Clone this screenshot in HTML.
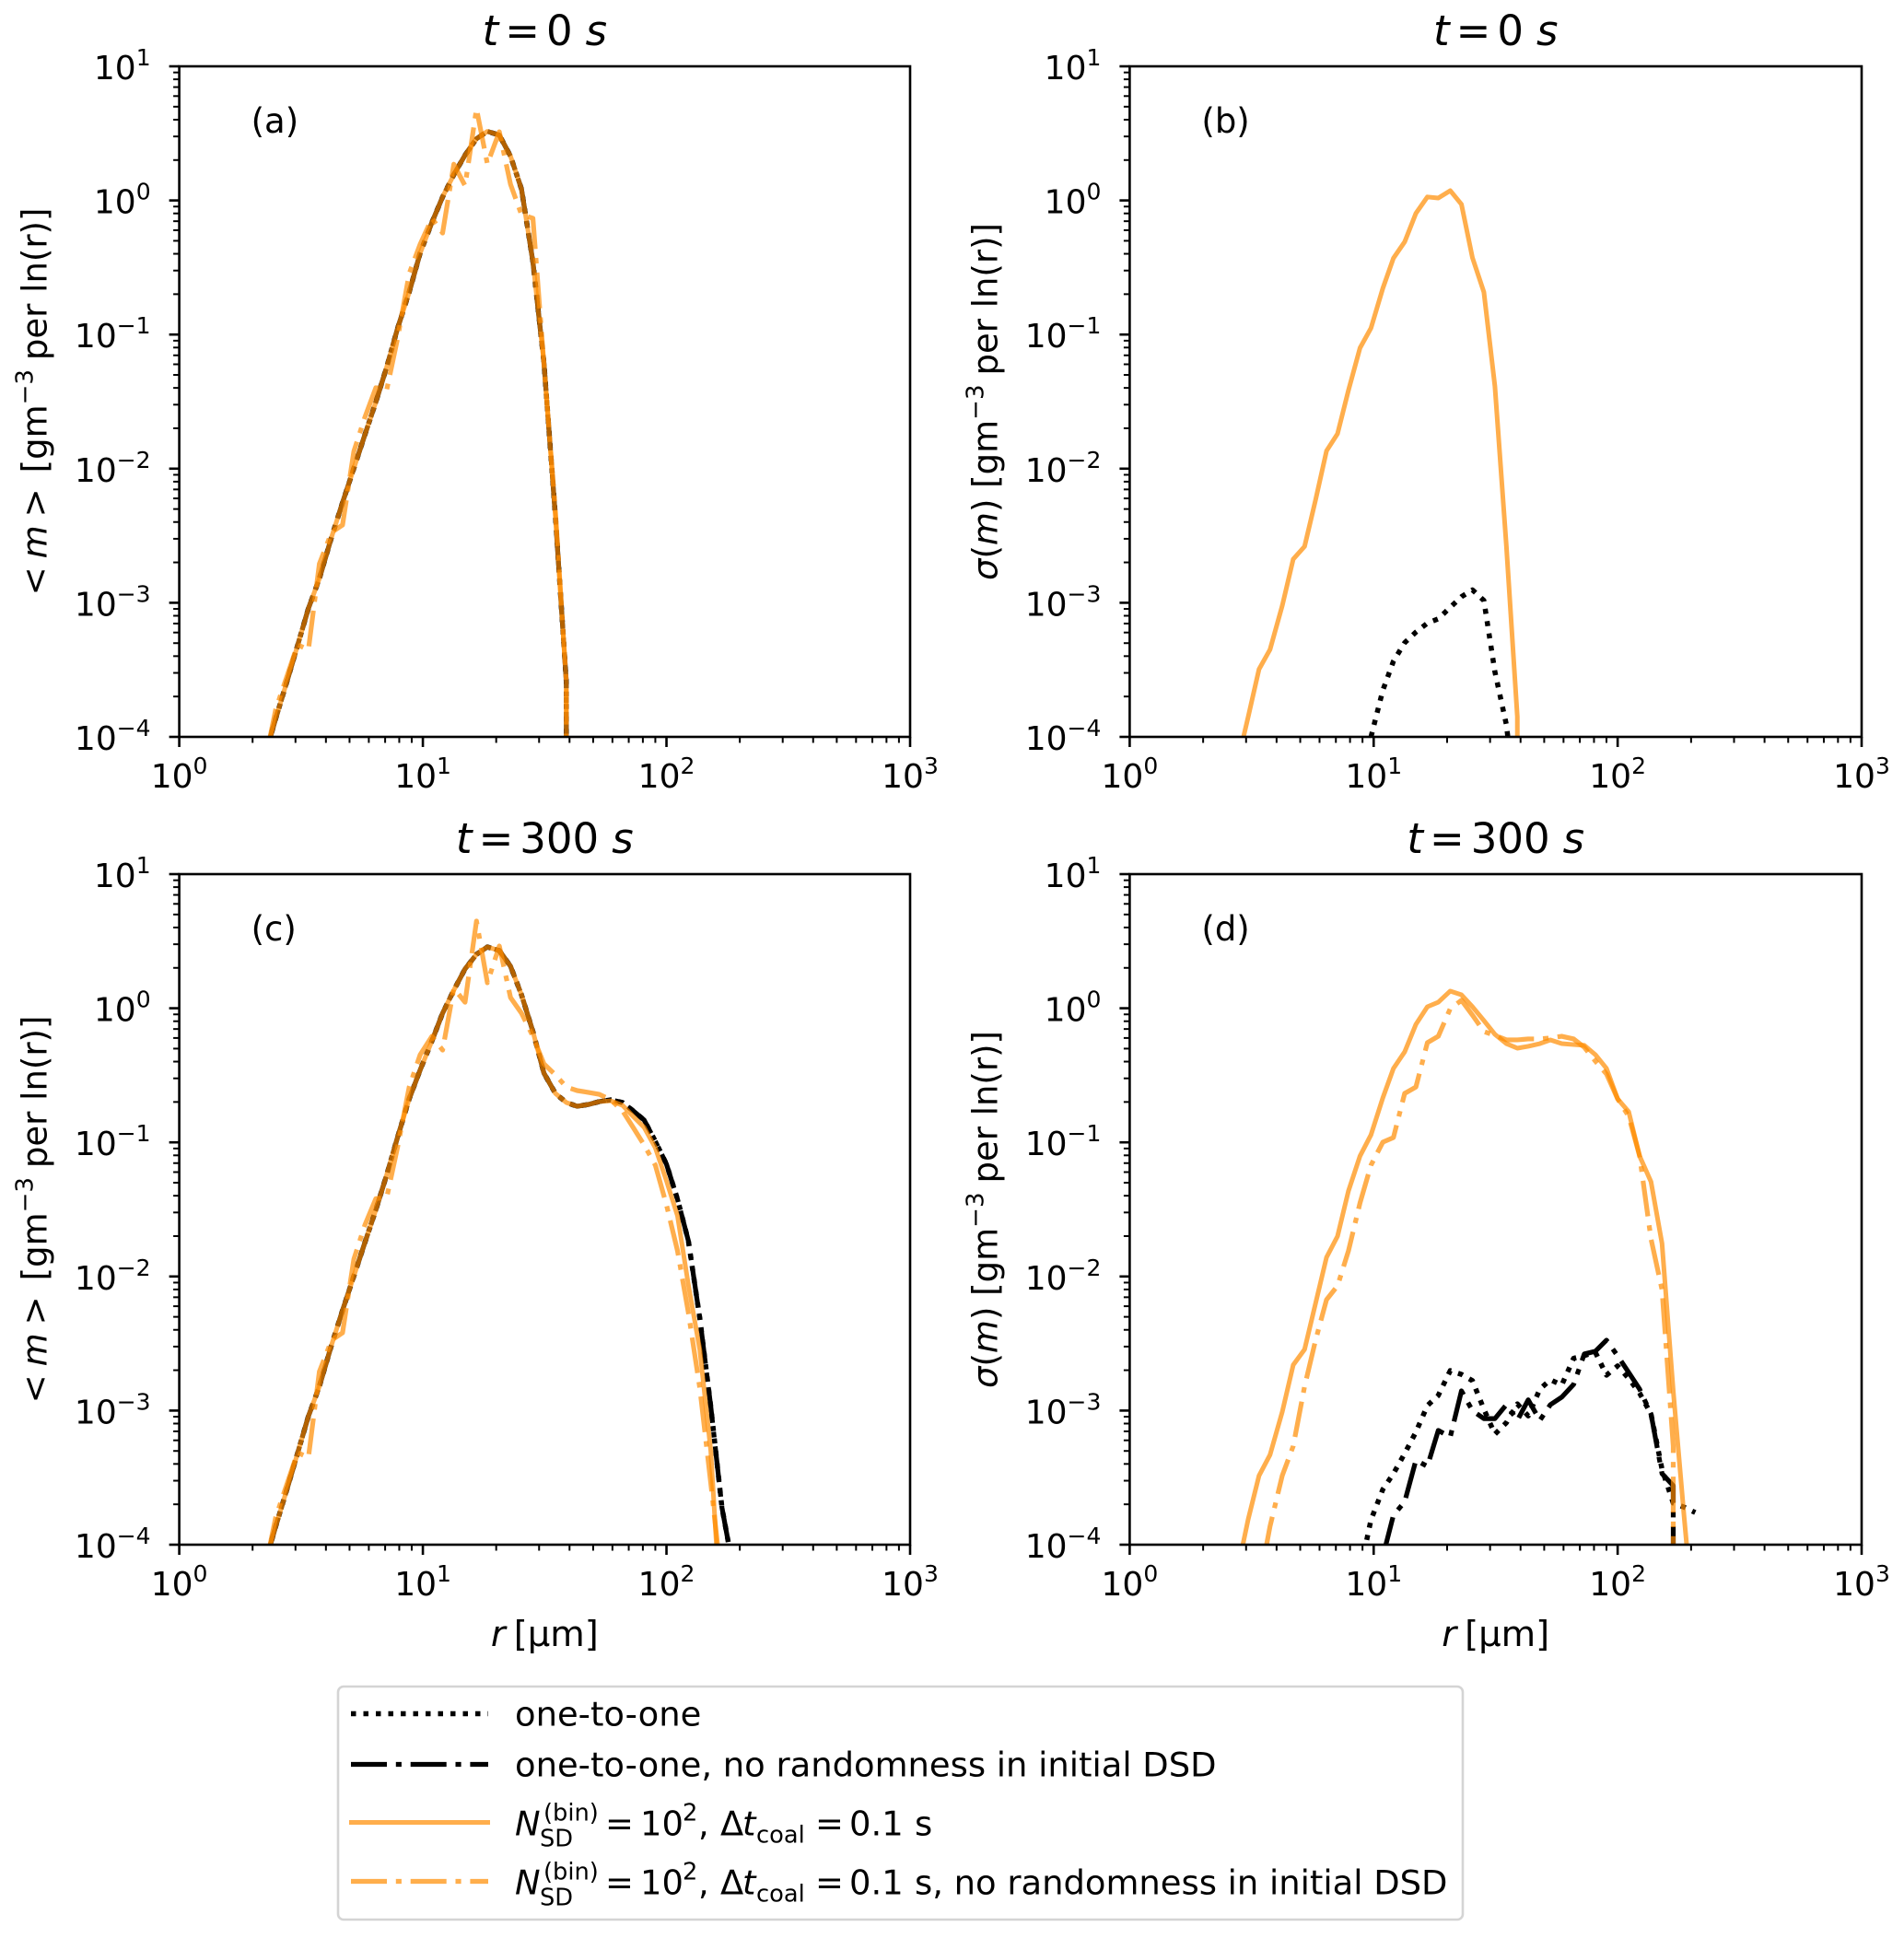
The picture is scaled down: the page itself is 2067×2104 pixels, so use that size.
<!DOCTYPE html>
<html lang="en">
<head>
<meta charset="utf-8">
<title>Droplet size distribution panels</title>
<style>
html,body{margin:0;padding:0;background:#fff;width:2067px;height:2104px;overflow:hidden;}
svg{display:block;overflow:hidden;}
text{font-family:"DejaVu Sans","Liberation Sans",sans-serif;fill:#000;}
.i{font-style:italic;}
</style>
</head>
<body>
<svg id="fig" xmlns="http://www.w3.org/2000/svg" width="2067" height="2104" viewBox="0 0 2067 2104">
  <rect x="0" y="0" width="2067" height="2104" fill="#fff"/>
  <g id="plots"></g>

  <g>
    <rect x="367" y="1831" width="1221" height="253" rx="6" ry="6" fill="#fff" stroke="#d4d4d4" stroke-width="2.6"/>
    <g>
      <line x1="381" x2="530" y1="1860.5" y2="1860.5" stroke="#000" stroke-width="5.5" stroke-dasharray="5.5 8"/>
      <text x="559" y="1873.5" font-size="36.9">one-to-one</text>
    </g>
    <g>
      <line x1="381" x2="530" y1="1915.5" y2="1915.5" stroke="#000" stroke-width="5.2" stroke-dasharray="39 9.8 6.1 9.8"/>
      <text x="559" y="1928.5" font-size="36.9">one-to-one, no randomness in initial DSD</text>
    </g>
    <g>
      <line x1="379" x2="532" y1="1978.5" y2="1978.5" stroke="#ff8c00" stroke-opacity="0.7" stroke-width="5"/>
      <text font-size="36.9">
        <tspan class="i" x="559" y="1992.5">N</tspan><tspan x="590" y="1976.5" font-size="25.7">(bin)</tspan><tspan x="586" y="2004.5" font-size="25.7">SD</tspan><tspan x="657" y="1992.5">=</tspan><tspan x="695" y="1992.5">10</tspan><tspan x="741" y="1976.5" font-size="25.7">2</tspan><tspan x="758" y="1992.5">,</tspan><tspan x="782" y="1992.5">Δ</tspan><tspan class="i" x="806" y="1992.5">t</tspan><tspan x="821" y="2000.5" font-size="25.7">coal</tspan><tspan x="885" y="1992.5">=</tspan><tspan x="922" y="1992.5">0.1</tspan><tspan x="993" y="1992.5">s</tspan>
      </text>
    </g>
    <g>
      <line x1="381" x2="530" y1="2042.5" y2="2042.5" stroke="#ff8c00" stroke-opacity="0.7" stroke-width="5.2" stroke-dasharray="39 9.8 6.1 9.8"/>
      <text font-size="36.9">
        <tspan class="i" x="559" y="2056.5">N</tspan><tspan x="590" y="2040.5" font-size="25.7">(bin)</tspan><tspan x="586" y="2068.5" font-size="25.7">SD</tspan><tspan x="657" y="2056.5">=</tspan><tspan x="695" y="2056.5">10</tspan><tspan x="741" y="2040.5" font-size="25.7">2</tspan><tspan x="758" y="2056.5">,</tspan><tspan x="782" y="2056.5">Δ</tspan><tspan class="i" x="806" y="2056.5">t</tspan><tspan x="821" y="2064.5" font-size="25.7">coal</tspan><tspan x="885" y="2056.5">=</tspan><tspan x="922" y="2056.5">0.1</tspan><tspan x="993" y="2056.5">s, no randomness in initial DSD</tspan>
      </text>
    </g>
  </g>
</svg>

<script>
// Drop radius bins in micrometres
const radii = [2.24,2.49,2.76,3.06,3.39,3.76,4.22,4.68,5.21,5.78,6.41,7.11,7.88,8.79,9.75,10.9,12.05,13.4,14.9,16.6,18.4,20.6,22.9,25.4,28.3,31.4,35,38.8,43,48,53,59,66,73,81,90,100,111,123,137,152,169,187,208];

// Series values are log10 of the plotted quantity, one per radius bin; -300 stands for an empty bin
const aDotted   = [-4.15,-3.862,-3.594,-3.318,-3.042,-2.82,-2.51,-2.253,-1.997,-1.748,-1.504,-1.24,-.952,-.684,-.392,-.163,.026,.192,.338,.46,.515,.487,.33,.085,-.459,-1.208,-2.356,-3.59,-300];
const aDashDot  = [-4.15,-3.862,-3.594,-3.318,-3.042,-2.82,-2.51,-2.253,-1.997,-1.748,-1.504,-1.24,-.952,-.684,-.392,-.163,.026,.192,.338,.46,.515,.487,.33,.085,-.459,-1.208,-2.356,-3.59,-300];
const aSolid    = [-4.15,-3.862,-3.594,-3.318,-3.042,-2.82,-2.51,-2.253,-1.997,-1.748,-1.504,-1.24,-.952,-.684,-.392,-.163,.026,.192,.338,.46,.515,.487,.33,.085,-.459,-1.208,-2.356,-3.59,-300];
const aOrangeDD = [-4.2,-3.794,-3.554,-3.313,-3.35,-2.709,-2.475,-2.42,-1.87,-1.617,-1.397,-1.41,-1.026,-.545,-.326,-.133,-.243,.27,.11,.684,.272,.512,.12,-.106,-.133,-1.22,-2.317,-3.59,-300];

const bDotted = [null,null,null,null,null,null,null,null,null,null,null,null,null,null,-4,-3.653,-3.436,-3.298,-3.219,-3.152,-3.12,-3.034,-2.955,-2.904,-2.983,-3.515,-3.91,-4.6];
const bSolid  = [null,null,-4.2,-3.85,-3.495,-3.349,-3.022,-2.675,-2.58,-2.233,-1.867,-1.74,-1.417,-1.1,-.952,-.656,-.431,-.309,-.096,.026,.018,.073,-.029,-.427,-.684,-1.386,-2.58,-3.85,-300];

const cDotted   = [-4.15,-3.862,-3.594,-3.318,-3.042,-2.82,-2.51,-2.253,-1.997,-1.748,-1.504,-1.24,-.96,-.676,-.46,-.243,-.037,.135,.293,.402,.457,.43,.313,.1,-.174,-.484,-.635,-.703,-.731,-.717,-.696,-.683,-.703,-.765,-.834,-.992,-1.163,-1.424,-1.734,-2.31,-2.97,-3.725,-4.16,-300];
const cDashDot  = [-4.15,-3.862,-3.594,-3.318,-3.042,-2.82,-2.51,-2.253,-1.997,-1.748,-1.504,-1.24,-.96,-.676,-.46,-.243,-.037,.135,.293,.402,.457,.43,.313,.1,-.174,-.484,-.635,-.703,-.731,-.717,-.696,-.683,-.703,-.765,-.834,-.992,-1.163,-1.424,-1.734,-2.31,-2.97,-3.725,-4.16,-300];
const cSolid    = [-4.15,-3.862,-3.594,-3.318,-3.042,-2.82,-2.51,-2.253,-1.997,-1.748,-1.504,-1.24,-.96,-.676,-.46,-.243,-.037,.135,.293,.402,.457,.43,.313,.1,-.174,-.484,-.635,-.703,-.731,-.717,-.696,-.69,-.724,-.806,-.889,-1.04,-1.287,-1.548,-2.063,-2.544,-3.3,-4.69];
const cOrangeDD = [-4.2,-3.794,-3.554,-3.313,-3.35,-2.709,-2.475,-2.42,-1.87,-1.617,-1.42,-1.41,-1.033,-.587,-.346,-.209,-.312,.148,.045,.65,.19,.464,.08,-.037,-.209,-.415,-.497,-.587,-.614,-.628,-.642,-.683,-.765,-.889,-1.02,-1.17,-1.466,-1.809,-2.27,-2.83,-3.54,-4.3];

const dDotted   = [null,null,null,null,null,null,null,null,null,null,null,null,null,-4.2,-3.815,-3.588,-3.47,-3.32,-3.16,-2.963,-2.887,-2.702,-2.73,-2.777,-2.99,-3.176,-3.09,-2.95,-3.04,-2.84,-2.77,-2.81,-2.61,-2.59,-2.565,-2.736,-2.667,-2.76,-2.87,-3.025,-3.437,-3.69,-3.72,-3.76];
const dDashDot  = [null,null,null,null,null,null,null,null,null,null,null,null,null,null,null,-4.09,-3.78,-3.68,-3.37,-3.416,-3.148,-3.197,-2.853,-3,-3.06,-3.06,-2.956,-3.073,-2.92,-3.073,-2.956,-2.9,-2.805,-2.578,-2.558,-2.475,-2.592,-2.716,-2.84,-3.025,-3.47,-3.56,-300];
const dSolid    = [null,null,-4.2,-3.81,-3.485,-3.33,-3.01,-2.66,-2.544,-2.2,-1.857,-1.7,-1.363,-1.102,-.944,-.669,-.449,-.325,-.12,.011,.045,.128,.1,.011,-.092,-.195,-.264,-.298,-.284,-.264,-.236,-.264,-.271,-.277,-.346,-.449,-.676,-.772,-1.102,-1.294,-1.754,-2.853,-3.78,-4.7];
const dOrangeDD = [null,null,null,null,-4.3,-3.863,-3.485,-3.265,-2.82,-2.475,-2.173,-2.07,-1.81,-1.452,-1.17,-.999,-.964,-.635,-.587,-.257,-.209,-.003,.059,-.051,-.174,-.202,-.236,-.236,-.229,-.229,-.222,-.209,-.229,-.291,-.394,-.49,-.676,-.806,-1.1,-1.72,-2.098,-3.265,-300];

// Axis tick exponents
const xTickExponents = [0,1,2,3];
const yTickExponents = [1,0,-1,-2,-3,-4];
const minorFactors = [2,3,4,5,6,7,8,9];

const NS = 'http://www.w3.org/2000/svg';
const root = document.getElementById('plots');
const colL = [194.6, 988], colR = [1226.4, 2021];
const rowT = [72, 800], rowB = [949, 1677];

function mk(tag, attrs, parent) {
  const el = document.createElementNS(NS, tag);
  for (const k in attrs) el.setAttribute(k, attrs[k]);
  parent.appendChild(el);
  return el;
}

// Turns a series into polyline points, cutting segments just below the axis floor
function linePoints(values, xScale, yScale, floor) {
  const raw = [];
  values.forEach(function (v, i) {
    if (v !== null && v !== undefined) raw.push([xScale(radii[i]), yScale(v)]);
  });
  const out = [];
  const cross = function (p, q) {
    const t = (floor - p[1]) / (q[1] - p[1]);
    return [p[0] + t * (q[0] - p[0]), floor];
  };
  raw.forEach(function (p, i) {
    const prev = raw[i - 1], next = raw[i + 1];
    if (p[1] <= floor) { out.push(p); return; }
    if (prev && prev[1] <= floor) out.push(cross(prev, p));
    if (next && next[1] <= floor) out.push(cross(p, next));
  });
  return out.map(function (p) { return p[0].toFixed(2) + ',' + p[1].toFixed(2); }).join(' ');
}

function drawPanel(id, letter, xr, yr, titleNum, yKind, showX, series) {
  const xScale = function (r) { return xr[0] + Math.log10(r) * (xr[1] - xr[0]) / 3; };
  const yScale = function (lg) { return yr[1] - (lg + 4) * (yr[1] - yr[0]) / 5; };
  const xExp = function (e) { return xr[0] + e * (xr[1] - xr[0]) / 3; };

  const g = mk('g', {}, root);
  
  

  const cp = mk('clipPath', { id: 'clip-' + id }, g);
  mk('rect', { x: xr[0], y: yr[0], width: xr[1] - xr[0], height: yr[1] - yr[0] }, cp);

  const lines = mk('g', { 'clip-path': 'url(#clip-' + id + ')' }, g);
  
  

  series.forEach(function (s) {
    const p = mk('polyline', {
      points: linePoints(s.values, xScale, yScale, yr[1] + 8), fill: 'none', stroke: s.color, 'stroke-opacity': s.alpha,
      'stroke-width': s.width, 'stroke-linejoin': 'round'
    }, lines);
    if (s.dash) p.setAttribute('stroke-dasharray', s.dash);
    
    
  });

  const spine = mk('rect', { x: xr[0], y: yr[0], width: xr[1] - xr[0], height: yr[1] - yr[0], fill: 'none', stroke: '#000', 'stroke-width': 2.6 }, g);
  
  

  xTickExponents.forEach(function (e) {
    const x = xExp(e);
    const t = mk('line', { x1: x, x2: x, y1: yr[1], y2: yr[1] + 11, stroke: '#000', 'stroke-width': 2.6 }, g);
    
    
    const lab = mk('text', { x: x, y: yr[1] + 55, 'text-anchor': 'middle', 'font-size': 36 }, g);
    lab.textContent = '10';
    const sup = mk('tspan', { dy: -15, 'font-size': 25 }, lab);
    sup.textContent = String(e);
    
    
    if (e < 3) minorFactors.forEach(function (f) {
      const mx = xExp(e + Math.log10(f));
      const m = mk('line', { x1: mx, x2: mx, y1: yr[1], y2: yr[1] + 6.5, stroke: '#000', 'stroke-width': 2 }, g);
      
      
    });
  });

  yTickExponents.forEach(function (e) {
    const y = yScale(e);
    const t = mk('line', { x1: xr[0] - 11, x2: xr[0], y1: y, y2: y, stroke: '#000', 'stroke-width': 2.6 }, g);
    
    
    const lab = mk('text', { x: xr[0] - 31, y: y + 14, 'text-anchor': 'end', 'font-size': 36 }, g);
    lab.textContent = '10';
    const sup = mk('tspan', { dy: -15, 'font-size': 25 }, lab);
    sup.textContent = String(e).replace('-', '\u2212');
    
    
    if (e > -4) minorFactors.forEach(function (f) {
      const my = yScale(e - 1 + Math.log10(f));
      const m = mk('line', { x1: xr[0] - 6.5, x2: xr[0], y1: my, y2: my, stroke: '#000', 'stroke-width': 2 }, g);
      
      
    });
  });

  // Title
  const cx = (xr[0] + xr[1]) / 2;
  const title = mk('text', { x: cx, y: yr[0] - 23, 'text-anchor': 'middle', 'font-size': 45 }, g);
  const t1 = mk('tspan', { class: 'i' }, title); t1.textContent = 't';
  const t2 = mk('tspan', { dx: 7 }, title); t2.textContent = '=';
  const t3 = mk('tspan', { dx: 7 }, title); t3.textContent = titleNum;
  const t4 = mk('tspan', { class: 'i', dx: 14 }, title); t4.textContent = 's';
  
  

  // Panel letter
  const tag = mk('text', { x: xr[0] + 78, y: yr[0] + 72, 'font-size': 37 }, g);
  tag.textContent = '(' + letter + ')';
  
  

  // Y axis title
  const yc = (yr[0] + yr[1]) / 2;
  const yx = xr[0] - 158;
  const yl = mk('text', { x: 0, y: 0, transform: 'translate(' + (yx + 14) + ',' + yc + ') rotate(-90)', 'text-anchor': 'middle', 'font-size': 37 }, g);
  if (yKind === 'mean') {
    const a = mk('tspan', {}, yl); a.textContent = '<';
    const b = mk('tspan', { class: 'i', dx: 9 }, yl); b.textContent = 'm';
    const c = mk('tspan', { dx: 9 }, yl); c.textContent = '>';
    const d = mk('tspan', { dx: 17 }, yl); d.textContent = '[gm';
  } else {
    const a = mk('tspan', { class: 'i' }, yl); a.textContent = '\u03c3';
    const b = mk('tspan', {}, yl); b.textContent = '(';
    const c = mk('tspan', { class: 'i' }, yl); c.textContent = 'm';
    const d = mk('tspan', {}, yl); d.textContent = ') [gm';
  }
  const ex = mk('tspan', { dy: -15, 'font-size': 26 }, yl); ex.textContent = '\u22123';
  const rest = mk('tspan', { dy: 15, dx: 10 }, yl); rest.textContent = 'per ln(r)]';
  
  

  // X axis title
  if (showX) {
    const xl = mk('text', { x: cx, y: yr[1] + 110, 'text-anchor': 'middle', 'font-size': 38.5 }, g);
    const r = mk('tspan', { class: 'i' }, xl); r.textContent = 'r';
    const u = mk('tspan', { dx: 9 }, xl); u.textContent = '[\u00b5m]';
    
    
  }
}

const ORANGE = '#ff8c00';
const DD = '39 9.8 6.1 9.8';
const DOT = '5.5 8';

drawPanel('a', 'a', colL, rowT, '0', 'mean', false, [
  { name: 'one-to-one', values: aDotted, color: '#000', alpha: 1, width: 5.5, dash: DOT },
  { name: 'one-to-one-no-randomness', values: aDashDot, color: '#000', alpha: 1, width: 5.2, dash: DD },
  { name: 'superdroplet', values: aSolid, color: ORANGE, alpha: 0.7, width: 5 },
  { name: 'superdroplet-no-randomness', values: aOrangeDD, color: ORANGE, alpha: 0.7, width: 5.2, dash: DD }
]);
drawPanel('b', 'b', colR, rowT, '0', 'sigma', false, [
  { name: 'one-to-one', values: bDotted, color: '#000', alpha: 1, width: 5.5, dash: DOT },
  { name: 'superdroplet', values: bSolid, color: ORANGE, alpha: 0.7, width: 5 }
]);
drawPanel('c', 'c', colL, rowB, '300', 'mean', true, [
  { name: 'one-to-one', values: cDotted, color: '#000', alpha: 1, width: 5.5, dash: DOT },
  { name: 'one-to-one-no-randomness', values: cDashDot, color: '#000', alpha: 1, width: 5.2, dash: DD },
  { name: 'superdroplet', values: cSolid, color: ORANGE, alpha: 0.7, width: 5 },
  { name: 'superdroplet-no-randomness', values: cOrangeDD, color: ORANGE, alpha: 0.7, width: 5.2, dash: DD }
]);
drawPanel('d', 'd', colR, rowB, '300', 'sigma', true, [
  { name: 'one-to-one', values: dDotted, color: '#000', alpha: 1, width: 5.5, dash: DOT },
  { name: 'one-to-one-no-randomness', values: dDashDot, color: '#000', alpha: 1, width: 5.2, dash: DD },
  { name: 'superdroplet', values: dSolid, color: ORANGE, alpha: 0.7, width: 5 },
  { name: 'superdroplet-no-randomness', values: dOrangeDD, color: ORANGE, alpha: 0.7, width: 5.2, dash: DD }
]);
</script>
</body>
</html>
